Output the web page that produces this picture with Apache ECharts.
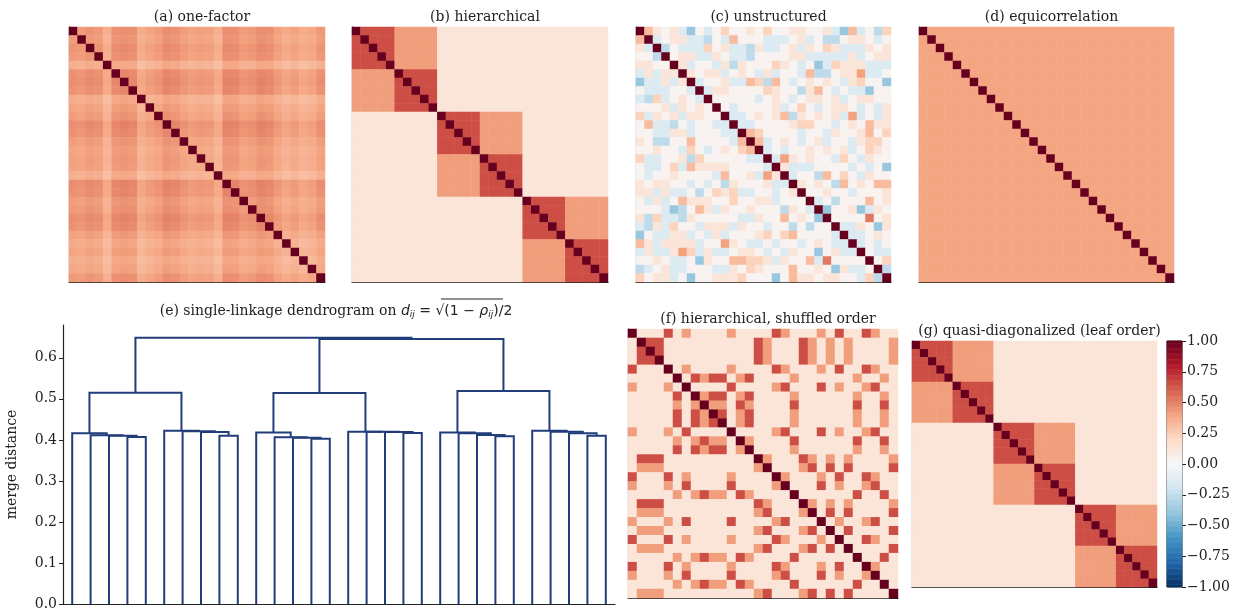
<!DOCTYPE html>
<html>
<head>
<meta charset="utf-8">
<script src="https://cdn.jsdelivr.net/npm/echarts@6/dist/echarts.min.js"></script>
<style>
html,body{margin:0;padding:0;background:#fff;}
#main{width:1243px;height:611px;}
</style>
</head>
<body>
<div id="main"></div>
<script>
// ---- data ----
var N = 30;

// (a) one-factor: loading of each variable (rho_ij = b_i * b_j)
var oneFactorLoadings = [0.66,0.64,0.68,0.66,0.55,0.69,0.71,0.69,0.56,0.61,
                         0.64,0.71,0.69,0.64,0.61,0.63,0.62,0.55,0.71,0.70,
                         0.64,0.66,0.71,0.69,0.62,0.57,0.61,0.56,0.59,0.66];

// (b)/(g) hierarchical: block and sub-block of each variable
var blockOf = [0,0,0,0,0,0,0,0,0,0, 1,1,1,1,1,1,1,1,1,1, 2,2,2,2,2,2,2,2,2,2];
var subOf   = [0,0,0,0,0,1,1,1,1,1, 2,2,2,2,2,3,3,3,3,3, 4,4,4,4,4,5,5,5,5,5];
var rhoSameSub = 0.65, rhoSameBlock = 0.42, rhoOther = 0.13;

// (f) shuffled order: original variable shown at each position
var shuffleOrder = [0,10,11,12,1,20,5,21,25,22,23,6,26,24,13,15,2,7,27,14,16,8,17,3,18,28,4,9,29,19];

// (c) unstructured: upper triangle, one string per row (cols i+1..29), level codes
var levelValue = {'0':-0.48,'1':-0.38,'2':-0.26,'3':-0.14,'4':0.03,'5':0.13,'6':0.23,'7':0.32,'8':0.41,'9':0.53};
var unstructuredUpper = [
  '754531434' + '6445464455' + '4453173426',
  '34553324' + '37444333' + '45342245' + '5434',
  '2433364533' + '2533453546' + '5333545',
  '4553354332' + '4444553333' + '353455',
  '5344352544' + '4654341365' + '55333',
  '5455345435' + '3443722455' + '8334',
  '3445337627' + '4345454356' + '441',
  '3554444654' + '4257434331' + '44',
  '4444434543' + '4554534554' + '4',
  '4344445346' + '4345543435',
  '3345457254' + '545383435',
  '3344445664' + '43454755',
  '7644443443' + '5445746',
  '7345434534' + '435664',
  '3434454545' + '34654',
  '3854544364' + '3544',
  '5333444434' + '341',
  '344274643544',
  '54542745477',
  '4454434445',
  '342444745',
  '14451354',
  '4444945',
  '335415',
  '33454',
  '3434',
  '433',
  '46',
  '2'
];

// (d) equicorrelation
var equiRho = 0.4;

// (e) dendrogram merge heights
// each sub-cluster of 5 leaves is a chain (1,(2,(3,(4,5)))), heights outer -> inner
var subChainHeights = [
  [0.416, 0.411, 0.410, 0.407],
  [0.422, 0.421, 0.419, 0.410],
  [0.418, 0.4065, 0.405, 0.403],
  [0.420, 0.420, 0.419, 0.417],
  [0.418, 0.416, 0.412, 0.409],
  [0.422, 0.420, 0.416, 0.410]
];
var clusterHeights = [0.515, 0.514, 0.519];
var rootHeights = [0.649, 0.646]; // cluster 1 joins (cluster 2 + cluster 3)
var dendroYTicks = [0, 0.1, 0.2, 0.3, 0.4, 0.5, 0.6];

var colorbarTicks = [-1, -0.75, -0.5, -0.25, 0, 0.25, 0.5, 0.75, 1];

var panelTitles = ['(a) one-factor', '(b) hierarchical', '(c) unstructured', '(d) equicorrelation',
                   '(f) hierarchical, shuffled order', '(g) quasi-diagonalized (leaf order)'];

// RdBu_r
var rdbuR = ['#053061','#2166ac','#4393c3','#92c5de','#d1e5f0','#f7f7f7',
             '#fddbc7','#f4a582','#d6604d','#b2182b','#67001f'];

// ---- matrices ----
function hierVal(a, b) {
    if (a === b) return 1;
    if (subOf[a] === subOf[b]) return rhoSameSub;
    if (blockOf[a] === blockOf[b]) return rhoSameBlock;
    return rhoOther;
}
function buildMatrix(fn) {
    var m = [];
    for (var i = 0; i < N; i++) {
        m.push([]);
        for (var j = 0; j < N; j++) m[i].push(fn(i, j));
    }
    return m;
}
var mOneFactor = buildMatrix(function (i, j) { return i === j ? 1 : oneFactorLoadings[i] * oneFactorLoadings[j]; });
var mHier = buildMatrix(hierVal);
var mUnstr = buildMatrix(function (i, j) {
    if (i === j) return 1;
    var a = Math.min(i, j), b = Math.max(i, j);
    return levelValue[unstructuredUpper[a].charAt(b - a - 1)];
});
var mEqui = buildMatrix(function (i, j) { return i === j ? 1 : equiRho; });
var mShuf = buildMatrix(function (i, j) { return hierVal(shuffleOrder[i], shuffleOrder[j]); });
var mLeaf = buildMatrix(hierVal);

function toHeat(m) {
    var d = [];
    for (var i = 0; i < N; i++) for (var j = 0; j < N; j++) d.push([j, i, m[i][j]]);
    return d;
}
var matrices = [mOneFactor, mHier, mUnstr, mEqui, mShuf, mLeaf];

// ---- dendrogram links ----
var links = [];
function join(l, r, h) {
    links.push([[l.x, l.h], [l.x, h], [r.x, h], [r.x, r.h]]);
    return { x: (l.x + r.x) / 2, h: h };
}
var subNodes = [];
for (var s = 0; s < 6; s++) {
    var base = s * 5;
    var node = { x: 5 + 10 * (base + 4), h: 0 };
    for (var k = 3; k >= 0; k--) {
        node = join({ x: 5 + 10 * (base + k), h: 0 }, node, subChainHeights[s][k]);
    }
    subNodes.push(node);
}
var clusters = [];
for (var c = 0; c < 3; c++) clusters.push(join(subNodes[2 * c], subNodes[2 * c + 1], clusterHeights[c]));
var right = join(clusters[1], clusters[2], rootHeights[1]);
join(clusters[0], right, rootHeights[0]);

// colorbar levels
var cbLevels = [], cbData = [];
for (var q = 0; q < 200; q++) { cbLevels.push(q); cbData.push([0, q, -1 + (q + 0.5) * 2 / 200]); }

// ---- layout ----
var boxes = [
    { left: 69, top: 27, width: 256, height: 255 },
    { left: 352, top: 27, width: 256, height: 255 },
    { left: 636, top: 27, width: 255, height: 255 },
    { left: 919, top: 27, width: 255, height: 255 },
    { left: 628, top: 329, width: 270, height: 269 },
    { left: 912, top: 341, width: 245, height: 246 }
];
var titleY = [5, 5, 5, 5, 307, 319];
var serif = 'DejaVu Serif';
var ink = '#222';

var grid = [], xAxis = [], yAxis = [], series = [], titles = [];
var idx = [];
for (var t = 0; t < N; t++) idx.push(String(t));

boxes.forEach(function (b, k) {
    grid.push(b);
    xAxis.push({ type: 'category', gridIndex: k, data: idx,
        axisLine: { show: true, lineStyle: { color: ink, width: 1.2 } },
        axisTick: { show: false }, axisLabel: { show: false }, splitLine: { show: false } });
    yAxis.push({ type: 'category', gridIndex: k, data: idx, inverse: true,
        axisLine: { show: true, lineStyle: { color: ink, width: 1.2 } },
        axisTick: { show: false }, axisLabel: { show: false }, splitLine: { show: false } });
    series.push({ type: 'heatmap', xAxisIndex: k, yAxisIndex: k, data: toHeat(matrices[k]),
        progressive: 0, silent: true });
    titles.push({ text: panelTitles[k], left: b.left + b.width / 2, top: titleY[k], textAlign: 'center',
        textStyle: { fontFamily: serif, fontWeight: 'normal', fontSize: 14, color: ink } });
});

// colorbar (grid 6)
grid.push({ left: 1167, top: 341, width: 15, height: 246, show: true, borderColor: ink, borderWidth: 1 });
xAxis.push({ type: 'category', gridIndex: 6, data: ['c'], show: false });
yAxis.push({ type: 'category', gridIndex: 6, data: cbLevels, show: false });
yAxis.push({ type: 'value', gridIndex: 6, position: 'right', min: -1, max: 1,
    axisLine: { show: false }, splitLine: { show: false },
    axisTick: { show: true, length: 4, lineStyle: { color: ink }, customValues: colorbarTicks },
    axisLabel: { fontFamily: serif, fontSize: 14, color: ink, margin: 5, customValues: colorbarTicks,
        formatter: function (v) { return (v < 0 ? '\u2212' : '') + Math.abs(v).toFixed(2); } } });
series.push({ type: 'heatmap', xAxisIndex: 6, yAxisIndex: 6, data: cbData, progressive: 0, silent: true });

// dendrogram (grid 7)
grid.push({ left: 63, top: 325, width: 552, height: 279 });
xAxis.push({ type: 'value', gridIndex: 7, min: 0, max: 300,
    axisLine: { show: true, lineStyle: { color: ink, width: 1.2 } },
    axisTick: { show: false }, axisLabel: { show: false }, splitLine: { show: false } });
yAxis.push({ type: 'value', gridIndex: 7, min: 0, max: 0.68,
    name: 'merge distance', nameLocation: 'middle', nameGap: 44, nameRotate: 90,
    nameTextStyle: { fontFamily: serif, fontSize: 14, color: ink },
    axisLine: { show: true, lineStyle: { color: ink, width: 1.2 } },
    axisTick: { show: true, length: 4, lineStyle: { color: ink }, customValues: dendroYTicks },
    axisLabel: { fontFamily: serif, fontSize: 14, color: ink, margin: 6, customValues: dendroYTicks,
        formatter: function (v) { return v.toFixed(1); } },
    splitLine: { show: false } });
series.push({ type: 'lines', coordinateSystem: 'cartesian2d', xAxisIndex: 7, yAxisIndex: 8,
    polyline: true, silent: true,
    lineStyle: { color: '#213d7a', width: 2, opacity: 1 },
    data: links.map(function (c) { return { coords: c }; }) });

titles.push({
    text: '{t|(e) single-linkage dendrogram on }{m|d}{s|ij}{u| = \u221A}{u|(1 \u2212 }{m|\u03C1}{s|ij}{u|)/2}',
    left: 331, top: 297, textAlign: 'center',
    textStyle: { fontWeight: 'normal', rich: {
        t: { fontFamily: serif, fontWeight: 'normal', fontSize: 14, color: ink, lineHeight: 18 },
        m: { fontFamily: 'DejaVu Sans', fontWeight: 'normal', fontStyle: 'italic', fontSize: 14, color: ink, lineHeight: 18 },
        s: { fontFamily: 'DejaVu Sans', fontWeight: 'normal', fontStyle: 'italic', fontSize: 9, color: ink, lineHeight: 18, padding: [8, 0, 0, 0] },
        u: { fontFamily: 'DejaVu Sans', fontWeight: 'normal', fontSize: 14, color: ink, lineHeight: 18 }
    } }
});

var myChart = echarts.init(document.getElementById('main'));
var option = {
    backgroundColor: '#fff',
    animation: false,
    title: titles,
    grid: grid,
    xAxis: xAxis,
    yAxis: yAxis,
    visualMap: {
        type: 'continuous', show: false, min: -1, max: 1,
        seriesIndex: [0, 1, 2, 3, 4, 5, 6],
        inRange: { color: rdbuR }
    },
    series: series,
    // bar over the square root in the (e) title
    graphic: [{ type: 'line', shape: { x1: 441, y1: 299, x2: 503, y2: 299 },
        style: { stroke: ink, lineWidth: 1 }, silent: true }]
};
myChart.setOption(option);
</script>
</body>
</html>
